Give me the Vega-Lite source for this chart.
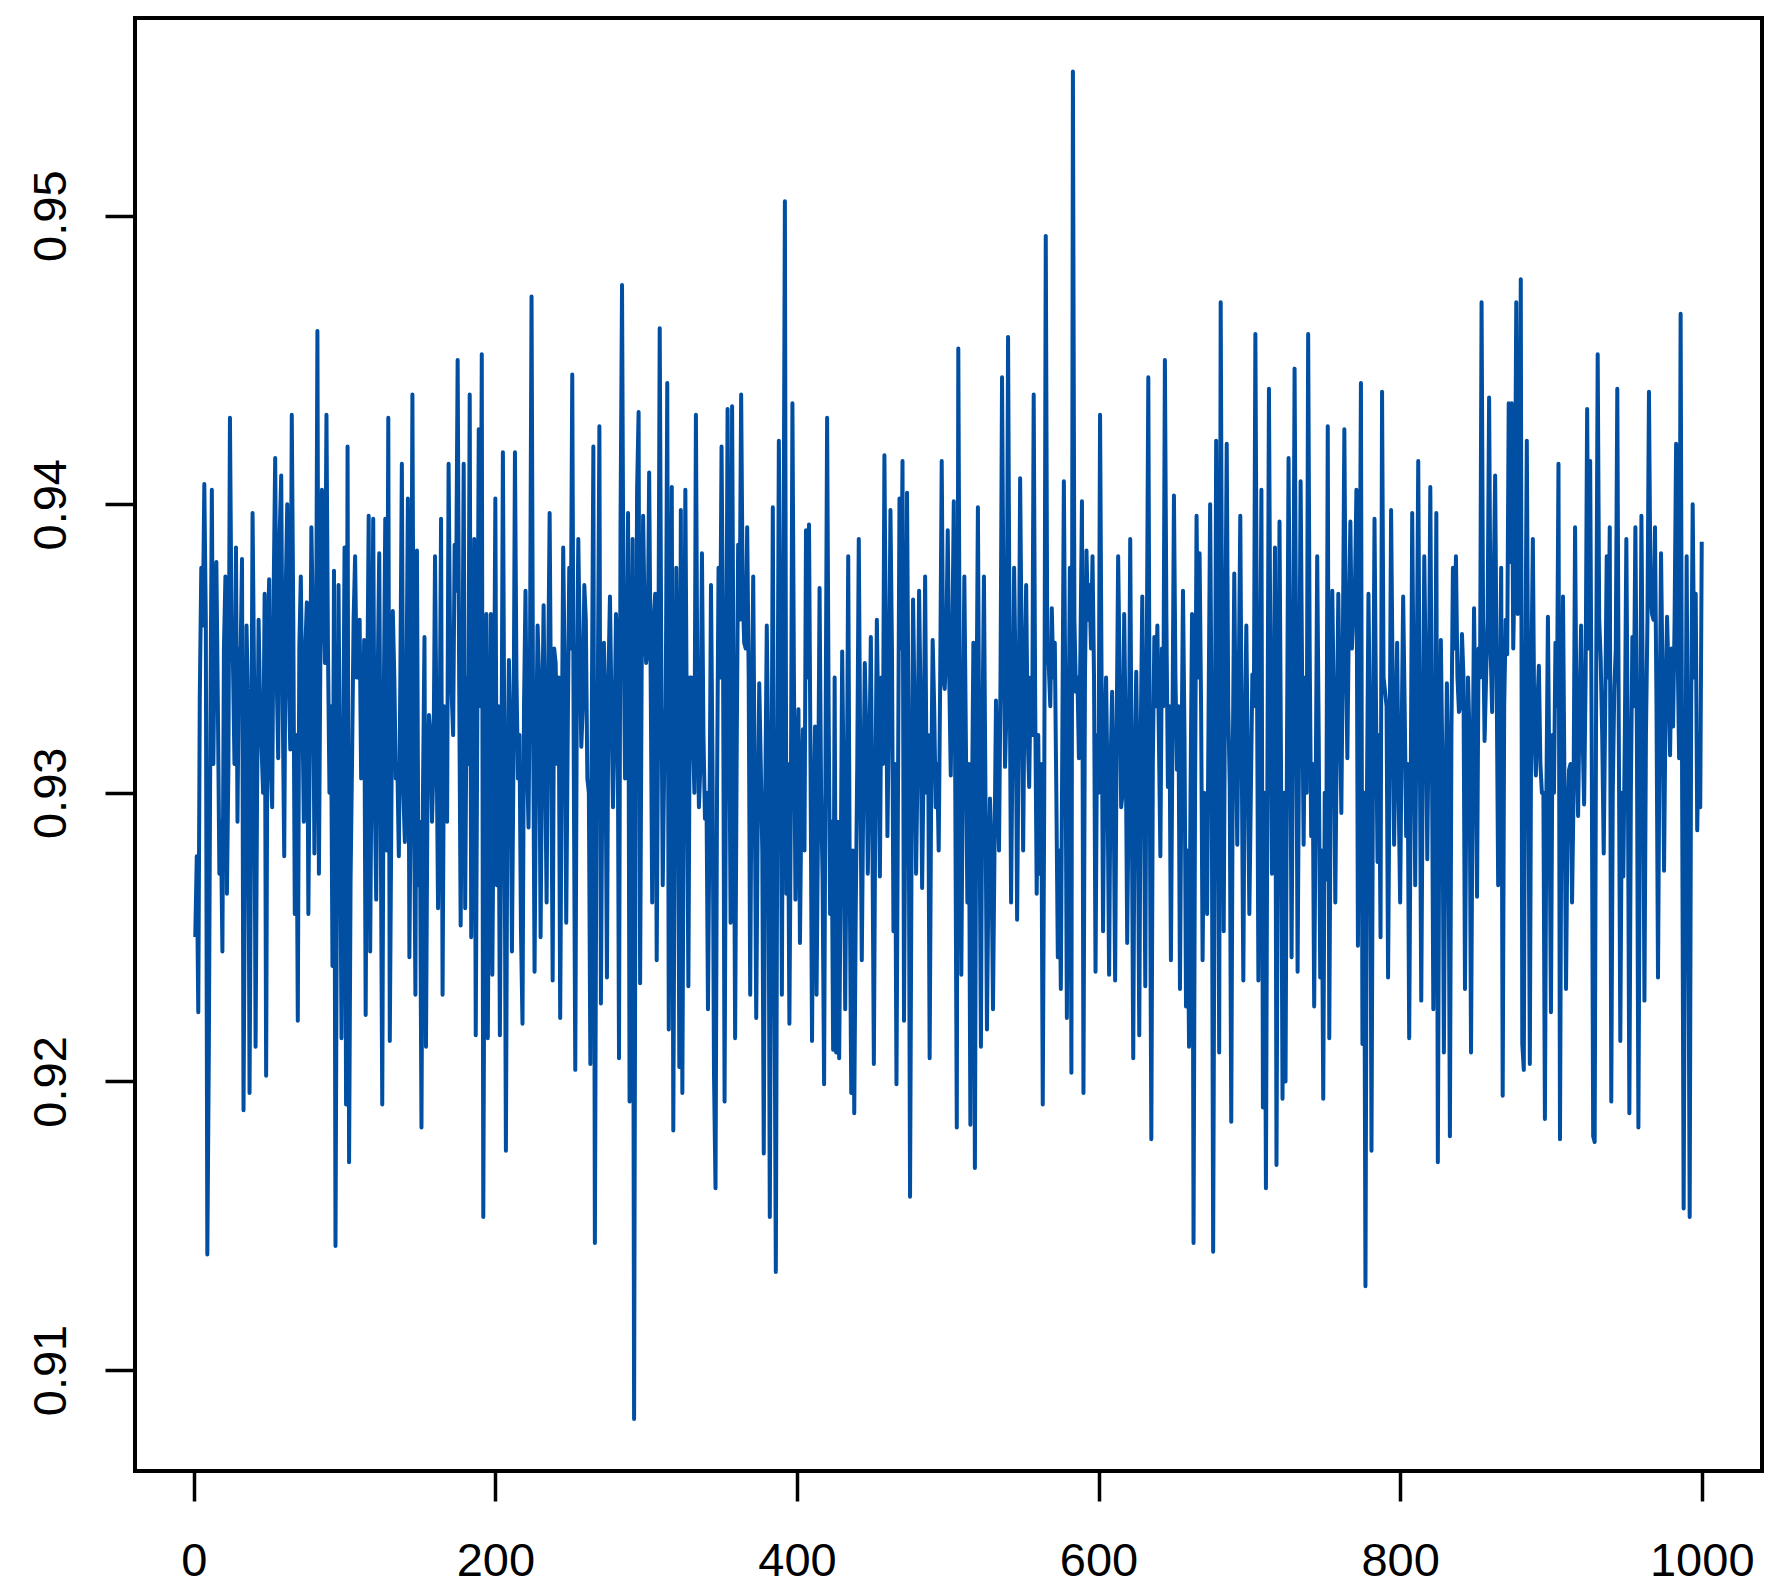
{"$schema":"https://vega.github.io/schema/vega-lite/v6.json","width":1627,"height":1453,"autosize":"none","padding":{"left":135,"top":18,"right":22,"bottom":123},"background":"white",
"config":{"view":{"stroke":"black","strokeWidth":4},"font":"Liberation Sans"},
"data":{"values":[
{"x":1,"y":0.925},{"x":2,"y":0.9278},{"x":3,"y":0.9224},{"x":4,"y":0.9333},{"x":5,"y":0.9378},{"x":6,"y":0.9358},{"x":7,"y":0.9407},{"x":8,"y":0.936},{"x":9,"y":0.914},{"x":10,"y":0.921},{"x":11,"y":0.932},{"x":12,"y":0.9405},{"x":14,"y":0.936},{"x":15,"y":0.938},{"x":17,"y":0.9272},{"x":19,"y":0.9245},{"x":21,"y":0.9375},{"x":22,"y":0.9265},{"x":24,"y":0.943},{"x":26,"y":0.9345},{"x":28,"y":0.9385},{"x":29,"y":0.929},{"x":31,"y":0.9345},{"x":32,"y":0.9381},{"x":33,"y":0.919},{"x":35,"y":0.9358},{"x":37,"y":0.9196},{"x":39,"y":0.9397},{"x":41,"y":0.9212},{"x":43,"y":0.936},{"x":45,"y":0.9315},{"x":47,"y":0.9369},{"x":48,"y":0.9202},{"x":50,"y":0.9374},{"x":52,"y":0.9295},{"x":54,"y":0.9416},{"x":56,"y":0.9312},{"x":58,"y":0.941},{"x":60,"y":0.9278},{"x":62,"y":0.94},{"x":64,"y":0.9315},{"x":65,"y":0.9431},{"x":67,"y":0.9258},{"x":69,"y":0.9221},{"x":71,"y":0.9375},{"x":73,"y":0.929},{"x":75,"y":0.9366},{"x":76,"y":0.9258},{"x":78,"y":0.9392},{"x":80,"y":0.9279},{"x":82,"y":0.946},{"x":83,"y":0.9272},{"x":85,"y":0.9405},{"x":87,"y":0.9345},{"x":88,"y":0.9431},{"x":90,"y":0.93},{"x":92,"y":0.924},{"x":93,"y":0.9377},{"x":94,"y":0.9143},{"x":96,"y":0.9372},{"x":98,"y":0.9215},{"x":100,"y":0.9385},{"x":101,"y":0.9192},{"x":102,"y":0.942},{"x":103,"y":0.9172},{"x":105,"y":0.9312},{"x":107,"y":0.9382},{"x":109,"y":0.934},{"x":111,"y":0.9305},{"x":113,"y":0.9353},{"x":114,"y":0.9223},{"x":116,"y":0.9396},{"x":117,"y":0.9245},{"x":119,"y":0.9395},{"x":121,"y":0.9263},{"x":123,"y":0.9383},{"x":125,"y":0.9192},{"x":127,"y":0.9395},{"x":128,"y":0.928},{"x":129,"y":0.943},{"x":130,"y":0.9214},{"x":132,"y":0.9363},{"x":134,"y":0.9305},{"x":136,"y":0.9278},{"x":138,"y":0.9414},{"x":140,"y":0.9283},{"x":142,"y":0.9402},{"x":143,"y":0.9243},{"x":145,"y":0.9438},{"x":147,"y":0.923},{"x":148,"y":0.9384},{"x":149,"y":0.9268},{"x":151,"y":0.9184},{"x":153,"y":0.9354},{"x":154,"y":0.9212},{"x":156,"y":0.9327},{"x":158,"y":0.929},{"x":160,"y":0.9382},{"x":162,"y":0.926},{"x":164,"y":0.9395},{"x":165,"y":0.923},{"x":167,"y":0.9326},{"x":169,"y":0.9414},{"x":171,"y":0.9335},{"x":173,"y":0.9386},{"x":175,"y":0.945},{"x":177,"y":0.9254},{"x":179,"y":0.9414},{"x":180,"y":0.926},{"x":183,"y":0.9438},{"x":184,"y":0.925},{"x":186,"y":0.9388},{"x":187,"y":0.9216},{"x":189,"y":0.9426},{"x":191,"y":0.9452},{"x":192,"y":0.9153},{"x":194,"y":0.9362},{"x":195,"y":0.9215},{"x":197,"y":0.9362},{"x":198,"y":0.9237},{"x":200,"y":0.9402},{"x":201,"y":0.9268},{"x":203,"y":0.9216},{"x":205,"y":0.9418},{"x":207,"y":0.9176},{"x":209,"y":0.9346},{"x":211,"y":0.9245},{"x":213,"y":0.9418},{"x":215,"y":0.9305},{"x":217,"y":0.9252},{"x":218,"y":0.922},{"x":220,"y":0.937},{"x":222,"y":0.9288},{"x":224,"y":0.9472},{"x":226,"y":0.9238},{"x":228,"y":0.9358},{"x":230,"y":0.925},{"x":232,"y":0.9365},{"x":234,"y":0.9262},{"x":236,"y":0.9397},{"x":238,"y":0.9235},{"x":240,"y":0.9345},{"x":243,"y":0.9222},{"x":245,"y":0.9385},{"x":247,"y":0.9255},{"x":249,"y":0.9378},{"x":251,"y":0.9445},{"x":253,"y":0.9204},{"x":255,"y":0.9388},{"x":257,"y":0.9316},{"x":259,"y":0.9372},{"x":261,"y":0.9305},{"x":263,"y":0.9206},{"x":265,"y":0.942},{"x":266,"y":0.9144},{"x":269,"y":0.9427},{"x":270,"y":0.9227},{"x":272,"y":0.9352},{"x":274,"y":0.9236},{"x":276,"y":0.9368},{"x":278,"y":0.9295},{"x":280,"y":0.9362},{"x":282,"y":0.9208},{"x":283,"y":0.9392},{"x":284,"y":0.9476},{"x":286,"y":0.9305},{"x":288,"y":0.9397},{"x":289,"y":0.9193},{"x":291,"y":0.9388},{"x":292,"y":0.9083},{"x":294,"y":0.9405},{"x":295,"y":0.9432},{"x":296,"y":0.9234},{"x":298,"y":0.9396},{"x":300,"y":0.9345},{"x":302,"y":0.9411},{"x":304,"y":0.9262},{"x":306,"y":0.9369},{"x":307,"y":0.9242},{"x":309,"y":0.9461},{"x":311,"y":0.9268},{"x":314,"y":0.9442},{"x":315,"y":0.9218},{"x":317,"y":0.9406},{"x":318,"y":0.9183},{"x":320,"y":0.9378},{"x":322,"y":0.9205},{"x":323,"y":0.9398},{"x":324,"y":0.9196},{"x":326,"y":0.9405},{"x":328,"y":0.9233},{"x":330,"y":0.934},{"x":333,"y":0.9431},{"x":335,"y":0.9295},{"x":337,"y":0.9383},{"x":339,"y":0.9291},{"x":341,"y":0.9225},{"x":343,"y":0.9372},{"x":345,"y":0.9202},{"x":346,"y":0.9163},{"x":348,"y":0.9378},{"x":350,"y":0.942},{"x":352,"y":0.9193},{"x":354,"y":0.9433},{"x":356,"y":0.9255},{"x":357,"y":0.9434},{"x":359,"y":0.9215},{"x":361,"y":0.9386},{"x":363,"y":0.9438},{"x":365,"y":0.9352},{"x":367,"y":0.9392},{"x":369,"y":0.923},{"x":371,"y":0.9375},{"x":373,"y":0.9222},{"x":375,"y":0.9338},{"x":378,"y":0.9175},{"x":380,"y":0.9358},{"x":382,"y":0.9153},{"x":384,"y":0.9399},{"x":385,"y":0.9248},{"x":386,"y":0.9134},{"x":388,"y":0.9422},{"x":390,"y":0.923},{"x":392,"y":0.9505},{"x":393,"y":0.9265},{"x":395,"y":0.922},{"x":397,"y":0.9435},{"x":399,"y":0.9263},{"x":401,"y":0.9329},{"x":402,"y":0.9248},{"x":404,"y":0.9322},{"x":406,"y":0.9391},{"x":408,"y":0.9393},{"x":410,"y":0.9214},{"x":412,"y":0.9323},{"x":413,"y":0.923},{"x":415,"y":0.9371},{"x":418,"y":0.9199},{"x":420,"y":0.943},{"x":422,"y":0.9258},{"x":424,"y":0.9211},{"x":425,"y":0.934},{"x":426,"y":0.921},{"x":428,"y":0.9208},{"x":430,"y":0.9349},{"x":432,"y":0.9225},{"x":434,"y":0.9382},{"x":436,"y":0.9196},{"x":438,"y":0.9189},{"x":441,"y":0.9388},{"x":443,"y":0.9242},{"x":445,"y":0.9345},{"x":447,"y":0.9272},{"x":449,"y":0.9354},{"x":451,"y":0.9206},{"x":453,"y":0.936},{"x":455,"y":0.9271},{"x":458,"y":0.9417},{"x":460,"y":0.9285},{"x":462,"y":0.9398},{"x":464,"y":0.9252},{"x":466,"y":0.9199},{"x":468,"y":0.9402},{"x":470,"y":0.9415},{"x":471,"y":0.9221},{"x":473,"y":0.9404},{"x":475,"y":0.916},{"x":477,"y":0.9367},{"x":479,"y":0.9272},{"x":481,"y":0.937},{"x":483,"y":0.9267},{"x":485,"y":0.9375},{"x":488,"y":0.9208},{"x":490,"y":0.9353},{"x":492,"y":0.9295},{"x":494,"y":0.928},{"x":496,"y":0.9415},{"x":498,"y":0.9336},{"x":500,"y":0.9391},{"x":502,"y":0.9306},{"x":504,"y":0.9401},{"x":506,"y":0.9184},{"x":507,"y":0.9454},{"x":509,"y":0.9237},{"x":511,"y":0.9375},{"x":513,"y":0.9262},{"x":515,"y":0.9185},{"x":517,"y":0.9352},{"x":518,"y":0.917},{"x":520,"y":0.9399},{"x":522,"y":0.9212},{"x":524,"y":0.9375},{"x":526,"y":0.9218},{"x":528,"y":0.9298},{"x":530,"y":0.9225},{"x":532,"y":0.9332},{"x":534,"y":0.928},{"x":536,"y":0.9444},{"x":538,"y":0.9309},{"x":540,"y":0.9458},{"x":542,"y":0.9262},{"x":544,"y":0.9378},{"x":546,"y":0.9256},{"x":548,"y":0.9409},{"x":550,"y":0.928},{"x":552,"y":0.9372},{"x":554,"y":0.9302},{"x":557,"y":0.9438},{"x":559,"y":0.9265},{"x":561,"y":0.9272},{"x":563,"y":0.9192},{"x":565,"y":0.9493},{"x":567,"y":0.9344},{"x":569,"y":0.9364},{"x":571,"y":0.9352},{"x":573,"y":0.9243},{"x":575,"y":0.9232},{"x":577,"y":0.9408},{"x":579,"y":0.9222},{"x":581,"y":0.9378},{"x":582,"y":0.9203},{"x":583,"y":0.955},{"x":585,"y":0.9335},{"x":587,"y":0.9312},{"x":589,"y":0.9401},{"x":590,"y":0.9196},{"x":592,"y":0.9384},{"x":594,"y":0.9372},{"x":596,"y":0.9382},{"x":598,"y":0.9238},{"x":601,"y":0.9431},{"x":603,"y":0.9252},{"x":605,"y":0.934},{"x":607,"y":0.9237},{"x":609,"y":0.9335},{"x":611,"y":0.9235},{"x":613,"y":0.9382},{"x":615,"y":0.9295},{"x":617,"y":0.9362},{"x":619,"y":0.9248},{"x":621,"y":0.9388},{"x":623,"y":0.9208},{"x":625,"y":0.9342},{"x":627,"y":0.9216},{"x":629,"y":0.9368},{"x":631,"y":0.9233},{"x":633,"y":0.9444},{"x":635,"y":0.918},{"x":637,"y":0.9354},{"x":639,"y":0.9358},{"x":641,"y":0.9278},{"x":644,"y":0.945},{"x":646,"y":0.9302},{"x":648,"y":0.9242},{"x":650,"y":0.9403},{"x":652,"y":0.9308},{"x":654,"y":0.9232},{"x":656,"y":0.937},{"x":658,"y":0.9226},{"x":660,"y":0.9212},{"x":662,"y":0.9362},{"x":663,"y":0.9144},{"x":665,"y":0.9396},{"x":667,"y":0.9383},{"x":669,"y":0.9242},{"x":672,"y":0.9258},{"x":674,"y":0.94},{"x":676,"y":0.9141},{"x":678,"y":0.9422},{"x":680,"y":0.921},{"x":681,"y":0.947},{"x":683,"y":0.9252},{"x":685,"y":0.9421},{"x":687,"y":0.9302},{"x":688,"y":0.9186},{"x":690,"y":0.9376},{"x":692,"y":0.9282},{"x":694,"y":0.9396},{"x":696,"y":0.9235},{"x":698,"y":0.9358},{"x":700,"y":0.9258},{"x":702,"y":0.9341},{"x":704,"y":0.9459},{"x":706,"y":0.9235},{"x":708,"y":0.9405},{"x":709,"y":0.9191},{"x":711,"y":0.9163},{"x":713,"y":0.944},{"x":715,"y":0.9272},{"x":717,"y":0.9385},{"x":718,"y":0.9171},{"x":720,"y":0.9394},{"x":722,"y":0.9194},{"x":724,"y":0.92},{"x":726,"y":0.9416},{"x":728,"y":0.9243},{"x":730,"y":0.9447},{"x":732,"y":0.9238},{"x":734,"y":0.9408},{"x":736,"y":0.9282},{"x":739,"y":0.9459},{"x":741,"y":0.9285},{"x":743,"y":0.9226},{"x":745,"y":0.9382},{"x":747,"y":0.9236},{"x":749,"y":0.9194},{"x":752,"y":0.9427},{"x":753,"y":0.9215},{"x":755,"y":0.937},{"x":757,"y":0.9262},{"x":759,"y":0.9369},{"x":761,"y":0.9293},{"x":763,"y":0.9426},{"x":765,"y":0.9312},{"x":767,"y":0.9394},{"x":769,"y":0.9362},{"x":771,"y":0.9405},{"x":772,"y":0.9247},{"x":774,"y":0.9442},{"x":775,"y":0.9213},{"x":777,"y":0.9129},{"x":779,"y":0.9369},{"x":781,"y":0.9176},{"x":783,"y":0.9395},{"x":785,"y":0.9276},{"x":787,"y":0.925},{"x":788,"y":0.9439},{"x":790,"y":0.9335},{"x":792,"y":0.9236},{"x":794,"y":0.9398},{"x":796,"y":0.9282},{"x":798,"y":0.9352},{"x":800,"y":0.9262},{"x":802,"y":0.9368},{"x":804,"y":0.9285},{"x":806,"y":0.9215},{"x":808,"y":0.9397},{"x":810,"y":0.9268},{"x":812,"y":0.9415},{"x":814,"y":0.9228},{"x":816,"y":0.9382},{"x":818,"y":0.9277},{"x":820,"y":0.9406},{"x":822,"y":0.9225},{"x":824,"y":0.9397},{"x":825,"y":0.9172},{"x":827,"y":0.9353},{"x":829,"y":0.921},{"x":831,"y":0.9338},{"x":833,"y":0.9181},{"x":835,"y":0.9378},{"x":837,"y":0.9382},{"x":839,"y":0.9328},{"x":841,"y":0.9355},{"x":843,"y":0.9232},{"x":845,"y":0.934},{"x":847,"y":0.921},{"x":849,"y":0.9364},{"x":851,"y":0.9264},{"x":854,"y":0.947},{"x":856,"y":0.9318},{"x":859,"y":0.9437},{"x":861,"y":0.9328},{"x":863,"y":0.941},{"x":865,"y":0.9268},{"x":867,"y":0.9378},{"x":868,"y":0.9195},{"x":871,"y":0.9348},{"x":872,"y":0.9435},{"x":874,"y":0.9435},{"x":875,"y":0.935},{"x":877,"y":0.947},{"x":878,"y":0.9362},{"x":880,"y":0.9478},{"x":881,"y":0.9213},{"x":882,"y":0.9204},{"x":884,"y":0.9422},{"x":886,"y":0.9206},{"x":888,"y":0.9388},{"x":890,"y":0.9306},{"x":892,"y":0.9344},{"x":894,"y":0.93},{"x":896,"y":0.9187},{"x":898,"y":0.9361},{"x":900,"y":0.9224},{"x":903,"y":0.9352},{"x":905,"y":0.9414},{"x":906,"y":0.918},{"x":908,"y":0.9368},{"x":910,"y":0.9232},{"x":912,"y":0.9308},{"x":914,"y":0.9262},{"x":916,"y":0.9392},{"x":918,"y":0.9292},{"x":920,"y":0.9358},{"x":922,"y":0.9296},{"x":924,"y":0.9433},{"x":926,"y":0.9415},{"x":928,"y":0.9181},{"x":929,"y":0.9179},{"x":931,"y":0.9452},{"x":933,"y":0.9346},{"x":935,"y":0.9279},{"x":937,"y":0.9382},{"x":939,"y":0.9392},{"x":940,"y":0.9193},{"x":942,"y":0.9336},{"x":944,"y":0.944},{"x":946,"y":0.9214},{"x":948,"y":0.9271},{"x":950,"y":0.9388},{"x":952,"y":0.9189},{"x":954,"y":0.9354},{"x":956,"y":0.9392},{"x":958,"y":0.9184},{"x":960,"y":0.9396},{"x":962,"y":0.9228},{"x":965,"y":0.9439},{"x":967,"y":0.9362},{"x":969,"y":0.9392},{"x":971,"y":0.9236},{"x":973,"y":0.9383},{"x":975,"y":0.9273},{"x":977,"y":0.9361},{"x":979,"y":0.9313},{"x":981,"y":0.9323},{"x":983,"y":0.9421},{"x":985,"y":0.9312},{"x":986,"y":0.9466},{"x":988,"y":0.9156},{"x":990,"y":0.9382},{"x":992,"y":0.9153},{"x":994,"y":0.94},{"x":996,"y":0.9369},{"x":997,"y":0.9287},{"x":999,"y":0.9295},{"x":1000,"y":0.9387},
{"x":13,"y":0.931},{"x":16,"y":0.933},{"x":18,"y":0.929},{"x":20,"y":0.935},{"x":23,"y":0.931},{"x":25,"y":0.936},{"x":27,"y":0.931},{"x":30,"y":0.935},{"x":34,"y":0.928},{"x":36,"y":0.933},{"x":38,"y":0.929},{"x":40,"y":0.934},{"x":42,"y":0.93},{"x":44,"y":0.933},{"x":46,"y":0.93},{"x":49,"y":0.935},{"x":51,"y":0.931},{"x":53,"y":0.937},{"x":55,"y":0.934},{"x":57,"y":0.939},{"x":59,"y":0.933},{"x":61,"y":0.937},{"x":63,"y":0.934},{"x":66,"y":0.936},{"x":68,"y":0.932},{"x":70,"y":0.935},{"x":72,"y":0.933},{"x":74,"y":0.935},{"x":77,"y":0.932},{"x":79,"y":0.936},{"x":81,"y":0.933},{"x":84,"y":0.935},{"x":86,"y":0.937},{"x":89,"y":0.935},{"x":91,"y":0.933},{"x":95,"y":0.928},{"x":97,"y":0.93},{"x":99,"y":0.93},{"x":104,"y":0.927},{"x":106,"y":0.936},{"x":108,"y":0.934},{"x":110,"y":0.936},{"x":112,"y":0.931},{"x":115,"y":0.933},{"x":118,"y":0.932},{"x":120,"y":0.93},{"x":122,"y":0.934},{"x":124,"y":0.929},{"x":126,"y":0.933},{"x":131,"y":0.929},{"x":133,"y":0.934},{"x":135,"y":0.931},{"x":137,"y":0.934},{"x":139,"y":0.93},{"x":141,"y":0.933},{"x":144,"y":0.931},{"x":146,"y":0.93},{"x":150,"y":0.929},{"x":152,"y":0.93},{"x":155,"y":0.93},{"x":157,"y":0.932},{"x":159,"y":0.931},{"x":161,"y":0.932},{"x":163,"y":0.931},{"x":166,"y":0.933},{"x":168,"y":0.929},{"x":170,"y":0.935},{"x":172,"y":0.932},{"x":174,"y":0.937},{"x":176,"y":0.934},{"x":178,"y":0.932},{"x":181,"y":0.934},{"x":182,"y":0.931},{"x":185,"y":0.931},{"x":188,"y":0.932},{"x":190,"y":0.933},{"x":193,"y":0.929},{"x":196,"y":0.93},{"x":199,"y":0.931},{"x":202,"y":0.933},{"x":204,"y":0.93},{"x":206,"y":0.931},{"x":208,"y":0.93},{"x":210,"y":0.932},{"x":212,"y":0.931},{"x":214,"y":0.934},{"x":216,"y":0.932},{"x":219,"y":0.933},{"x":221,"y":0.931},{"x":223,"y":0.935},{"x":225,"y":0.933},{"x":227,"y":0.931},{"x":229,"y":0.934},{"x":231,"y":0.932},{"x":233,"y":0.931},{"x":235,"y":0.934},{"x":237,"y":0.932},{"x":239,"y":0.935},{"x":241,"y":0.931},{"x":242,"y":0.934},{"x":244,"y":0.931},{"x":246,"y":0.934},{"x":248,"y":0.932},{"x":250,"y":0.935},{"x":252,"y":0.931},{"x":254,"y":0.933},{"x":256,"y":0.935},{"x":258,"y":0.933},{"x":260,"y":0.936},{"x":262,"y":0.93},{"x":264,"y":0.933},{"x":267,"y":0.929},{"x":268,"y":0.934},{"x":271,"y":0.931},{"x":273,"y":0.932},{"x":275,"y":0.934},{"x":277,"y":0.933},{"x":279,"y":0.932},{"x":281,"y":0.935},{"x":285,"y":0.936},{"x":287,"y":0.934},{"x":290,"y":0.933},{"x":293,"y":0.93},{"x":297,"y":0.934},{"x":299,"y":0.936},{"x":301,"y":0.935},{"x":303,"y":0.934},{"x":305,"y":0.936},{"x":308,"y":0.933},{"x":310,"y":0.935},{"x":312,"y":0.931},{"x":313,"y":0.933},{"x":316,"y":0.932},{"x":319,"y":0.93},{"x":321,"y":0.933},{"x":325,"y":0.931},{"x":327,"y":0.932},{"x":329,"y":0.934},{"x":331,"y":0.932},{"x":332,"y":0.93},{"x":334,"y":0.933},{"x":336,"y":0.931},{"x":338,"y":0.932},{"x":340,"y":0.93},{"x":342,"y":0.929},{"x":344,"y":0.931},{"x":347,"y":0.93},{"x":349,"y":0.934},{"x":351,"y":0.935},{"x":353,"y":0.932},{"x":355,"y":0.934},{"x":358,"y":0.933},{"x":360,"y":0.931},{"x":362,"y":0.936},{"x":364,"y":0.937},{"x":366,"y":0.935},{"x":368,"y":0.934},{"x":370,"y":0.932},{"x":372,"y":0.93},{"x":374,"y":0.929},{"x":376,"y":0.931},{"x":377,"y":0.928},{"x":379,"y":0.93},{"x":381,"y":0.931},{"x":383,"y":0.928},{"x":387,"y":0.93},{"x":389,"y":0.934},{"x":391,"y":0.936},{"x":394,"y":0.931},{"x":396,"y":0.93},{"x":398,"y":0.934},{"x":400,"y":0.931},{"x":403,"y":0.93},{"x":405,"y":0.928},{"x":407,"y":0.934},{"x":409,"y":0.931},{"x":411,"y":0.929},{"x":414,"y":0.929},{"x":416,"y":0.93},{"x":417,"y":0.927},{"x":419,"y":0.932},{"x":421,"y":0.933},{"x":423,"y":0.929},{"x":427,"y":0.929},{"x":429,"y":0.927},{"x":431,"y":0.93},{"x":433,"y":0.929},{"x":435,"y":0.927},{"x":437,"y":0.928},{"x":439,"y":0.926},{"x":440,"y":0.931},{"x":442,"y":0.931},{"x":444,"y":0.93},{"x":446,"y":0.932},{"x":448,"y":0.931},{"x":450,"y":0.929},{"x":452,"y":0.93},{"x":454,"y":0.932},{"x":456,"y":0.934},{"x":457,"y":0.931},{"x":459,"y":0.935},{"x":461,"y":0.933},{"x":463,"y":0.935},{"x":465,"y":0.931},{"x":467,"y":0.93},{"x":469,"y":0.935},{"x":472,"y":0.931},{"x":474,"y":0.932},{"x":476,"y":0.928},{"x":478,"y":0.933},{"x":480,"y":0.931},{"x":482,"y":0.933},{"x":484,"y":0.931},{"x":486,"y":0.93},{"x":487,"y":0.932},{"x":489,"y":0.93},{"x":491,"y":0.933},{"x":493,"y":0.931},{"x":495,"y":0.934},{"x":497,"y":0.934},{"x":499,"y":0.935},{"x":501,"y":0.934},{"x":503,"y":0.935},{"x":505,"y":0.93},{"x":508,"y":0.933},{"x":510,"y":0.931},{"x":512,"y":0.932},{"x":514,"y":0.931},{"x":516,"y":0.929},{"x":519,"y":0.932},{"x":521,"y":0.93},{"x":523,"y":0.932},{"x":525,"y":0.93},{"x":527,"y":0.927},{"x":529,"y":0.928},{"x":531,"y":0.928},{"x":533,"y":0.93},{"x":535,"y":0.934},{"x":537,"y":0.936},{"x":539,"y":0.933},{"x":541,"y":0.935},{"x":543,"y":0.932},{"x":545,"y":0.934},{"x":547,"y":0.932},{"x":549,"y":0.935},{"x":551,"y":0.934},{"x":553,"y":0.932},{"x":555,"y":0.934},{"x":556,"y":0.932},{"x":558,"y":0.933},{"x":560,"y":0.932},{"x":562,"y":0.931},{"x":564,"y":0.93},{"x":566,"y":0.935},{"x":568,"y":0.933},{"x":570,"y":0.934},{"x":572,"y":0.93},{"x":574,"y":0.928},{"x":576,"y":0.932},{"x":578,"y":0.933},{"x":580,"y":0.931},{"x":584,"y":0.936},{"x":586,"y":0.934},{"x":588,"y":0.935},{"x":591,"y":0.934},{"x":593,"y":0.936},{"x":595,"y":0.935},{"x":597,"y":0.934},{"x":599,"y":0.932},{"x":600,"y":0.93},{"x":602,"y":0.934},{"x":604,"y":0.932},{"x":606,"y":0.93},{"x":608,"y":0.931},{"x":610,"y":0.93},{"x":612,"y":0.932},{"x":614,"y":0.934},{"x":616,"y":0.93},{"x":618,"y":0.932},{"x":620,"y":0.93},{"x":622,"y":0.93},{"x":624,"y":0.931},{"x":626,"y":0.93},{"x":628,"y":0.932},{"x":630,"y":0.931},{"x":632,"y":0.935},{"x":634,"y":0.93},{"x":636,"y":0.931},{"x":638,"y":0.933},{"x":640,"y":0.932},{"x":642,"y":0.935},{"x":643,"y":0.933},{"x":645,"y":0.936},{"x":647,"y":0.933},{"x":649,"y":0.932},{"x":651,"y":0.934},{"x":653,"y":0.933},{"x":655,"y":0.931},{"x":657,"y":0.932},{"x":659,"y":0.928},{"x":661,"y":0.93},{"x":664,"y":0.93},{"x":666,"y":0.934},{"x":668,"y":0.933},{"x":670,"y":0.93},{"x":671,"y":0.928},{"x":673,"y":0.933},{"x":675,"y":0.932},{"x":677,"y":0.929},{"x":679,"y":0.934},{"x":682,"y":0.934},{"x":684,"y":0.935},{"x":686,"y":0.933},{"x":689,"y":0.931},{"x":691,"y":0.932},{"x":693,"y":0.934},{"x":695,"y":0.931},{"x":697,"y":0.932},{"x":699,"y":0.931},{"x":701,"y":0.93},{"x":703,"y":0.933},{"x":705,"y":0.935},{"x":707,"y":0.932},{"x":710,"y":0.93},{"x":712,"y":0.931},{"x":714,"y":0.934},{"x":716,"y":0.932},{"x":719,"y":0.93},{"x":721,"y":0.931},{"x":723,"y":0.93},{"x":725,"y":0.932},{"x":727,"y":0.934},{"x":729,"y":0.933},{"x":731,"y":0.935},{"x":733,"y":0.932},{"x":735,"y":0.934},{"x":737,"y":0.934},{"x":738,"y":0.93},{"x":740,"y":0.935},{"x":742,"y":0.931},{"x":744,"y":0.93},{"x":746,"y":0.932},{"x":748,"y":0.928},{"x":750,"y":0.93},{"x":751,"y":0.927},{"x":754,"y":0.931},{"x":756,"y":0.933},{"x":758,"y":0.932},{"x":760,"y":0.933},{"x":762,"y":0.935},{"x":764,"y":0.935},{"x":766,"y":0.936},{"x":768,"y":0.935},{"x":770,"y":0.937},{"x":773,"y":0.934},{"x":776,"y":0.93},{"x":778,"y":0.93},{"x":780,"y":0.932},{"x":782,"y":0.931},{"x":784,"y":0.933},{"x":786,"y":0.932},{"x":789,"y":0.934},{"x":791,"y":0.933},{"x":793,"y":0.931},{"x":795,"y":0.934},{"x":797,"y":0.932},{"x":799,"y":0.93},{"x":801,"y":0.932},{"x":803,"y":0.933},{"x":805,"y":0.931},{"x":807,"y":0.93},{"x":809,"y":0.933},{"x":811,"y":0.934},{"x":813,"y":0.932},{"x":815,"y":0.931},{"x":817,"y":0.934},{"x":819,"y":0.933},{"x":821,"y":0.932},{"x":823,"y":0.93},{"x":826,"y":0.93},{"x":828,"y":0.931},{"x":830,"y":0.929},{"x":832,"y":0.93},{"x":834,"y":0.932},{"x":836,"y":0.935},{"x":838,"y":0.934},{"x":840,"y":0.933},{"x":842,"y":0.934},{"x":844,"y":0.931},{"x":846,"y":0.932},{"x":848,"y":0.93},{"x":850,"y":0.932},{"x":852,"y":0.935},{"x":853,"y":0.934},{"x":855,"y":0.936},{"x":857,"y":0.934},{"x":858,"y":0.936},{"x":860,"y":0.935},{"x":862,"y":0.937},{"x":864,"y":0.934},{"x":866,"y":0.932},{"x":869,"y":0.933},{"x":870,"y":0.936},{"x":873,"y":0.938},{"x":876,"y":0.938},{"x":879,"y":0.937},{"x":883,"y":0.934},{"x":885,"y":0.932},{"x":887,"y":0.934},{"x":889,"y":0.932},{"x":891,"y":0.933},{"x":893,"y":0.931},{"x":895,"y":0.93},{"x":897,"y":0.93},{"x":899,"y":0.93},{"x":901,"y":0.932},{"x":902,"y":0.93},{"x":904,"y":0.933},{"x":907,"y":0.931},{"x":909,"y":0.93},{"x":911,"y":0.929},{"x":913,"y":0.931},{"x":915,"y":0.93},{"x":917,"y":0.932},{"x":919,"y":0.933},{"x":921,"y":0.932},{"x":923,"y":0.934},{"x":925,"y":0.935},{"x":927,"y":0.932},{"x":930,"y":0.934},{"x":932,"y":0.936},{"x":934,"y":0.932},{"x":936,"y":0.933},{"x":938,"y":0.934},{"x":941,"y":0.93},{"x":943,"y":0.935},{"x":945,"y":0.932},{"x":947,"y":0.93},{"x":949,"y":0.932},{"x":951,"y":0.931},{"x":953,"y":0.93},{"x":955,"y":0.933},{"x":957,"y":0.932},{"x":959,"y":0.93},{"x":961,"y":0.933},{"x":963,"y":0.932},{"x":964,"y":0.936},{"x":966,"y":0.937},{"x":968,"y":0.936},{"x":970,"y":0.933},{"x":972,"y":0.932},{"x":974,"y":0.934},{"x":976,"y":0.933},{"x":978,"y":0.934},{"x":980,"y":0.935},{"x":982,"y":0.936},{"x":984,"y":0.935},{"x":987,"y":0.93},{"x":989,"y":0.928},{"x":991,"y":0.928},{"x":993,"y":0.933},{"x":995,"y":0.934},{"x":998,"y":0.932}
]},
"mark":{"type":"line","color":"#004FA3","strokeWidth":4,"strokeJoin":"round","clip":true},
"encoding":{
"x":{"field":"x","type":"quantitative","title":null,"scale":{"domain":[-38.96,1039.96],"nice":false,"zero":false},"axis":{"values":[0,200,400,600,800,1000],"format":"d","grid":false,"domain":false,"tickColor":"black","tickWidth":3.5,"tickSize":30,"labelFontSize":47,"labelColor":"black","labelFont":"Liberation Sans","labelPadding":37,"labelOverlap":false,"labelFlush":false}},
"y":{"field":"y","type":"quantitative","title":null,"scale":{"domain":[0.9065,0.95685],"nice":false,"zero":false},"axis":{"values":[0.91,0.92,0.93,0.94,0.95],"format":".2f","grid":false,"domain":false,"tickColor":"black","tickWidth":3.5,"tickSize":30,"labelFontSize":47,"labelColor":"black","labelFont":"Liberation Sans","labelAngle":-90,"labelAlign":"center","labelBaseline":"bottom","labelPadding":30,"labelOverlap":false}}
}}
